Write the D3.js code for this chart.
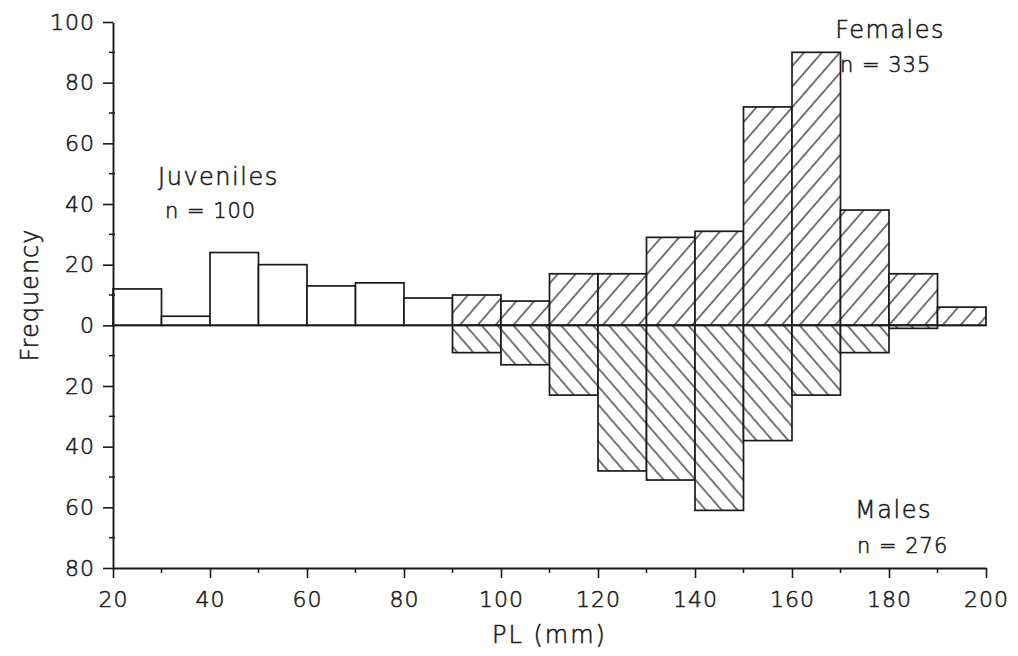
<!DOCTYPE html>
<html>
<head>
<meta charset="utf-8">
<script src="https://cdn.jsdelivr.net/npm/d3@7"></script>
<style>
  body { margin: 0; background: #fff; }
  text { font-family: "DejaVu Sans", sans-serif; font-weight: 200; fill: #1a1a1a; stroke: #1a1a1a; stroke-width: 0.55px; }
</style>
</head>
<body>
<div id="chartId"></div>
<script>
// bin starts (mm), each bin is 10 mm wide
var binStarts   = [20, 30, 40, 50, 60, 70, 80, 90, 100, 110, 120, 130, 140, 150, 160, 170, 180, 190];
var juveniles   = [12, 3, 24, 20, 13, 14, 9, 0, 0, 0, 0, 0, 0, 0, 0, 0, 0, 0];
var females     = [0, 0, 0, 0, 0, 0, 0, 10, 8, 17, 17, 29, 31, 72, 90, 38, 17, 6];
var males       = [0, 0, 0, 0, 0, 0, 0, 9, 13, 23, 48, 51, 61, 38, 23, 9, 1, 0];
var xTicks      = [20, 40, 60, 80, 100, 120, 140, 160, 180, 200];
var yTicks      = [-80, -60, -40, -20, 0, 20, 40, 60, 80, 100];
var groupNames  = ["Juveniles", "Females", "Males"];
var groupCounts = ["n = 100", "n = 335", "n = 276"];

// label anchors in data units (x in mm, y in frequency)
var nameAnchors  = [[29.3, 46.3], [168.9, 94.7], [173.0, -63.5]];
var countAnchors = [[30.7, 35.4], [169.9, 83.5], [173.4, -75.1]];

var binWidth = 10;

var full = {w: 1018, h: 656};
var margin = {top: 22, right: 32, bottom: 88, left: 113};

var xScale = d3.scaleLinear().domain([20, 200]).range([margin.left, full.w - margin.right]);
var yScale = d3.scaleLinear().domain([-80, 100]).range([full.h - margin.bottom, margin.top]);

var svg = d3.select("#chartId").append("svg")
    .attr("width", full.w)
    .attr("height", full.h);

var defs = svg.append("defs");

function addHatch(id, angle, spacing) {
    var p = defs.append("pattern")
        .attr("id", id)
        .attr("patternUnits", "userSpaceOnUse")
        .attr("width", 10)
        .attr("height", spacing)
        .attr("patternTransform", "rotate(" + angle + ")");
    p.append("rect").attr("width", 10).attr("height", spacing).attr("fill", "#fff");
    p.append("line")
        .attr("x1", -1).attr("x2", 11)
        .attr("y1", spacing / 2).attr("y2", spacing / 2)
        .attr("stroke", "#1a1a1a").attr("stroke-width", 1.2);
}
addHatch("hatchFemale", -49, 13.5);
addHatch("hatchMale", 49, 12);

function drawBars(values, fill, downward) {
    svg.append("g").selectAll("rect")
        .data(binStarts.map(function(s, i) { return {start: s, v: values[i]}; })
                       .filter(function(d) { return d.v > 0; }))
        .enter()
        .append("rect")
          .attr("x", function(d) { return xScale(d.start); })
          .attr("width", function(d) { return xScale(d.start + binWidth) - xScale(d.start); })
          .attr("y", function(d) { return downward ? yScale(0) : yScale(d.v); })
          .attr("height", function(d) { return Math.abs(yScale(0) - yScale(d.v)); })
          .attr("fill", fill)
          .attr("stroke", "#1a1a1a")
          .attr("stroke-width", 1.7);
}

drawBars(juveniles, "#fff", false);
drawBars(females, "url(#hatchFemale)", false);
drawBars(males, "url(#hatchMale)", true);

// zero line
svg.append("line")
    .attr("x1", xScale(20)).attr("x2", xScale(200))
    .attr("y1", yScale(0)).attr("y2", yScale(0))
    .attr("stroke", "#1a1a1a").attr("stroke-width", 1.9);

// axes
var xAxis = d3.axisBottom(xScale).tickValues(xTicks).tickSize(10).tickSizeOuter(0).tickPadding(13);
var gx = svg.append("g").attr("transform", "translate(0," + yScale(-80) + ")").call(xAxis);

var yAxis = d3.axisLeft(yScale).tickValues(yTicks).tickSize(10).tickSizeOuter(0).tickPadding(8)
    .tickFormat(function(d) { return Math.abs(d); });
var gy = svg.append("g").attr("transform", "translate(" + xScale(20) + ",0)").call(yAxis);

// minor ticks
gx.selectAll(".minor").data(d3.range(30, 200, 20)).enter().append("line")
    .attr("x1", function(d) { return xScale(d); }).attr("x2", function(d) { return xScale(d); })
    .attr("y1", 0).attr("y2", 5)
    .attr("stroke", "#1a1a1a").attr("stroke-width", 1.5);
gy.selectAll(".minor").data(d3.range(-70, 100, 20)).enter().append("line")
    .attr("x1", -4).attr("x2", 2)
    .attr("y1", function(d) { return yScale(d); }).attr("y2", function(d) { return yScale(d); })
    .attr("stroke", "#1a1a1a").attr("stroke-width", 1.5);

[gx, gy].forEach(function(g) {
    g.select(".domain").attr("stroke", "#1a1a1a").attr("stroke-width", 1.9);
    g.selectAll(".tick line").attr("stroke", "#1a1a1a").attr("stroke-width", 1.6);
    g.selectAll(".tick text")
        .style("font-family", "'DejaVu Sans', sans-serif")
        .style("font-weight", "200")
        .style("font-size", "22px")
        .style("letter-spacing", "1px")
        .style("stroke", "#1a1a1a")
        .style("stroke-width", "0.55px")
        .attr("fill", "#1a1a1a");
});

// axis titles
svg.append("text")
    .attr("x", xScale(110)).attr("y", 643)
    .attr("text-anchor", "middle")
    .style("font-size", "24px")
    .style("letter-spacing", "2px")
    .text("PL (mm)");

svg.append("text")
    .attr("transform", "translate(38," + yScale(10) + ") rotate(-90)")
    .attr("text-anchor", "middle")
    .style("font-size", "24px")
    .style("letter-spacing", "1px")
    .text("Frequency");

// group labels
svg.append("g").selectAll("text").data(groupNames).enter().append("text")
    .attr("x", function(d, i) { return xScale(nameAnchors[i][0]); })
    .attr("y", function(d, i) { return yScale(nameAnchors[i][1]); })
    .style("font-size", "24px")
    .style("letter-spacing", "1.5px")
    .text(function(d) { return d; });

svg.append("g").selectAll("text").data(groupCounts).enter().append("text")
    .attr("x", function(d, i) { return xScale(countAnchors[i][0]); })
    .attr("y", function(d, i) { return yScale(countAnchors[i][1]); })
    .style("font-size", "21px")
    .style("letter-spacing", "1px")
    .text(function(d) { return d; });
</script>
</body>
</html>
